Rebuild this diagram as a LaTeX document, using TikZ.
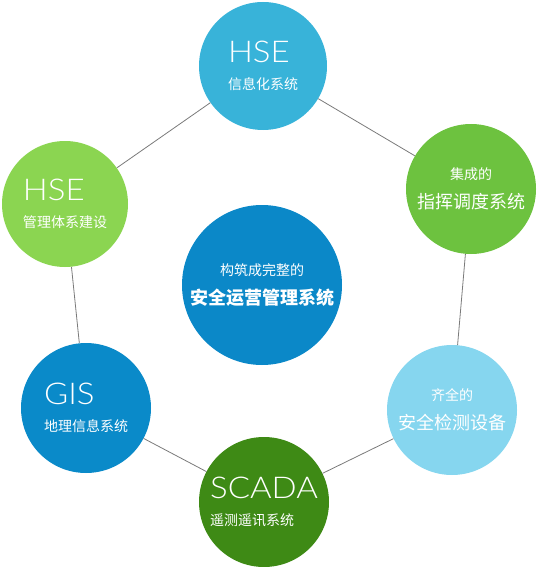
\documentclass[tikz,border=0pt]{standalone}
\usepackage{fontspec}
\newfontfamily\cjk{Noto Sans CJK SC}
\newfontfamily\thinfont{Lato}[UprightFont={* Light}, FakeStretch=1.1]
\newcommand\entitle[1]{{\thinfont\fontsize{30}{30}\selectfont #1}}
\newcommand\cjklarge[1]{{\fontsize{18}{18}\selectfont #1}}

\definecolor{hseblue}{HTML}{38B3D9}
\definecolor{ctrlgreen}{HTML}{6DC23F}
\definecolor{mgmtgreen}{HTML}{8BD551}
\definecolor{coreblue}{HTML}{0B88C8}
\definecolor{detectcyan}{HTML}{86D6EF}
\definecolor{gisblue}{HTML}{0A8AC9}
\definecolor{scadagreen}{HTML}{3E8A15}

\tikzset{
  bubble/.style={circle, inner sep=0pt, minimum size=130pt, text=white,
    font=\cjk\fontsize{14}{16}\selectfont},
  link/.style={draw=black!52, line width=0.8pt},
}

\begin{document}
\begin{tikzpicture}[x=1pt, y=-1pt]
            \useasboundingbox (0,0) rectangle (536,567);

            \node (hse) at (263,66) [bubble, fill=hseblue, minimum size=128pt, align=left] {\entitle{HSE}\\[11pt]信息化系统};
            \node (ctrl) at (471,189) [bubble, fill=ctrlgreen, align=center] {集成的\\[11pt]\cjklarge{指挥调度系统}};
            \node (mgmt) at (65,204) [bubble, fill=mgmtgreen, minimum size=126pt, align=left] {\entitle{HSE}\\[11pt]管理体系建设};
            \node (core) at (262,285) [bubble, fill=coreblue, minimum size=160pt, align=center] {构筑成完整的\\[11pt]\cjklarge{\bfseries 安全运营管理系统}};
            \node (detect) at (452,410) [bubble, fill=detectcyan, align=center] {齐全的\\[11pt]\cjklarge{安全检测设备}};
            \node (gis) at (86,408) [bubble, fill=gisblue, align=left] {\entitle{GIS}\\[11pt]地理信息系统};
            \node (scada) at (264,502) [bubble, fill=scadagreen, align=left] {\entitle{SCADA}\\[11pt]遥测遥讯系统};

            \draw[link] (hse) -- (ctrl) -- (detect) -- (scada) -- (gis) -- (mgmt) -- (hse);

        \end{tikzpicture}
\end{document}
